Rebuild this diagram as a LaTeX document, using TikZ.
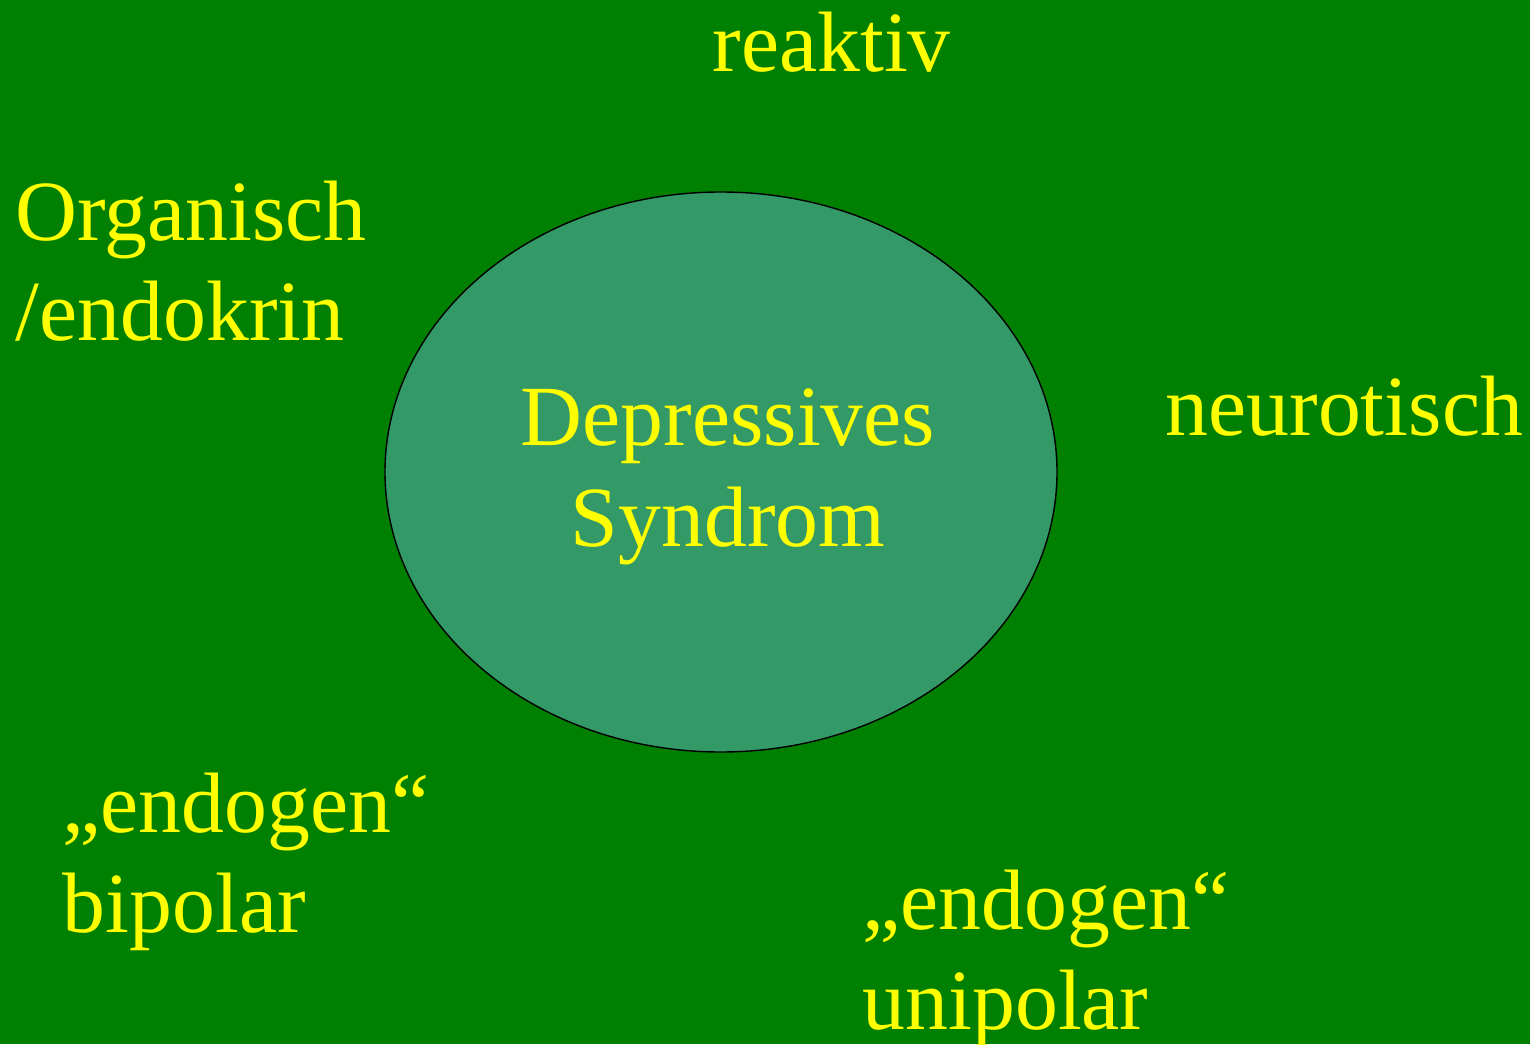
\documentclass[tikz,border=0pt]{standalone}
\usepackage{fontspec}
\setmainfont{Liberation Serif}
\usepackage{xcolor}
\usetikzlibrary{shapes.geometric, positioning, calc}

\definecolor{bggreen}{HTML}{008000}
\definecolor{ovalgreen}{HTML}{339966}
\definecolor{labelyellow}{HTML}{FFFF00}

\begin{document}
\begin{tikzpicture}[
  label/.style={text=labelyellow, inner sep=0pt, align=left, font=\fontsize{24.4}{28.45}\selectfont},
  centre/.style={text=labelyellow, inner sep=0pt, align=center, font=\fontsize{24.4}{28.9}\selectfont},
  oval/.style={ellipse, draw=black, fill=ovalgreen, minimum width=6.72cm, minimum height=5.6cm}
]

% Background
\fill[bggreen] (0,0) rectangle (15.3,10.44);
\useasboundingbox (0,0) rectangle (15.3,10.44);

% Nodes
\node[oval] (syndrom) at (7.21,5.72) {};
\node[centre] (title) at (7.28,5.67) {Depressives\\Syndrom};
\node[label, anchor=base west] (reaktiv) at (7.12,9.72) {reaktiv};
\node[label, anchor=north west] (organisch) at (0.15,8.64) {Organisch\\/endokrin};
\node[label, anchor=base west] (neurotisch) at (11.65,6.09) {neurotisch};
\node[label, anchor=north west] (bipolar) at (0.62,2.72) {„endogen“\\bipolar};
\node[label, anchor=north west] (unipolar) at (8.62,1.75) {„endogen“\\unipolar};

\end{tikzpicture}
\end{document}
